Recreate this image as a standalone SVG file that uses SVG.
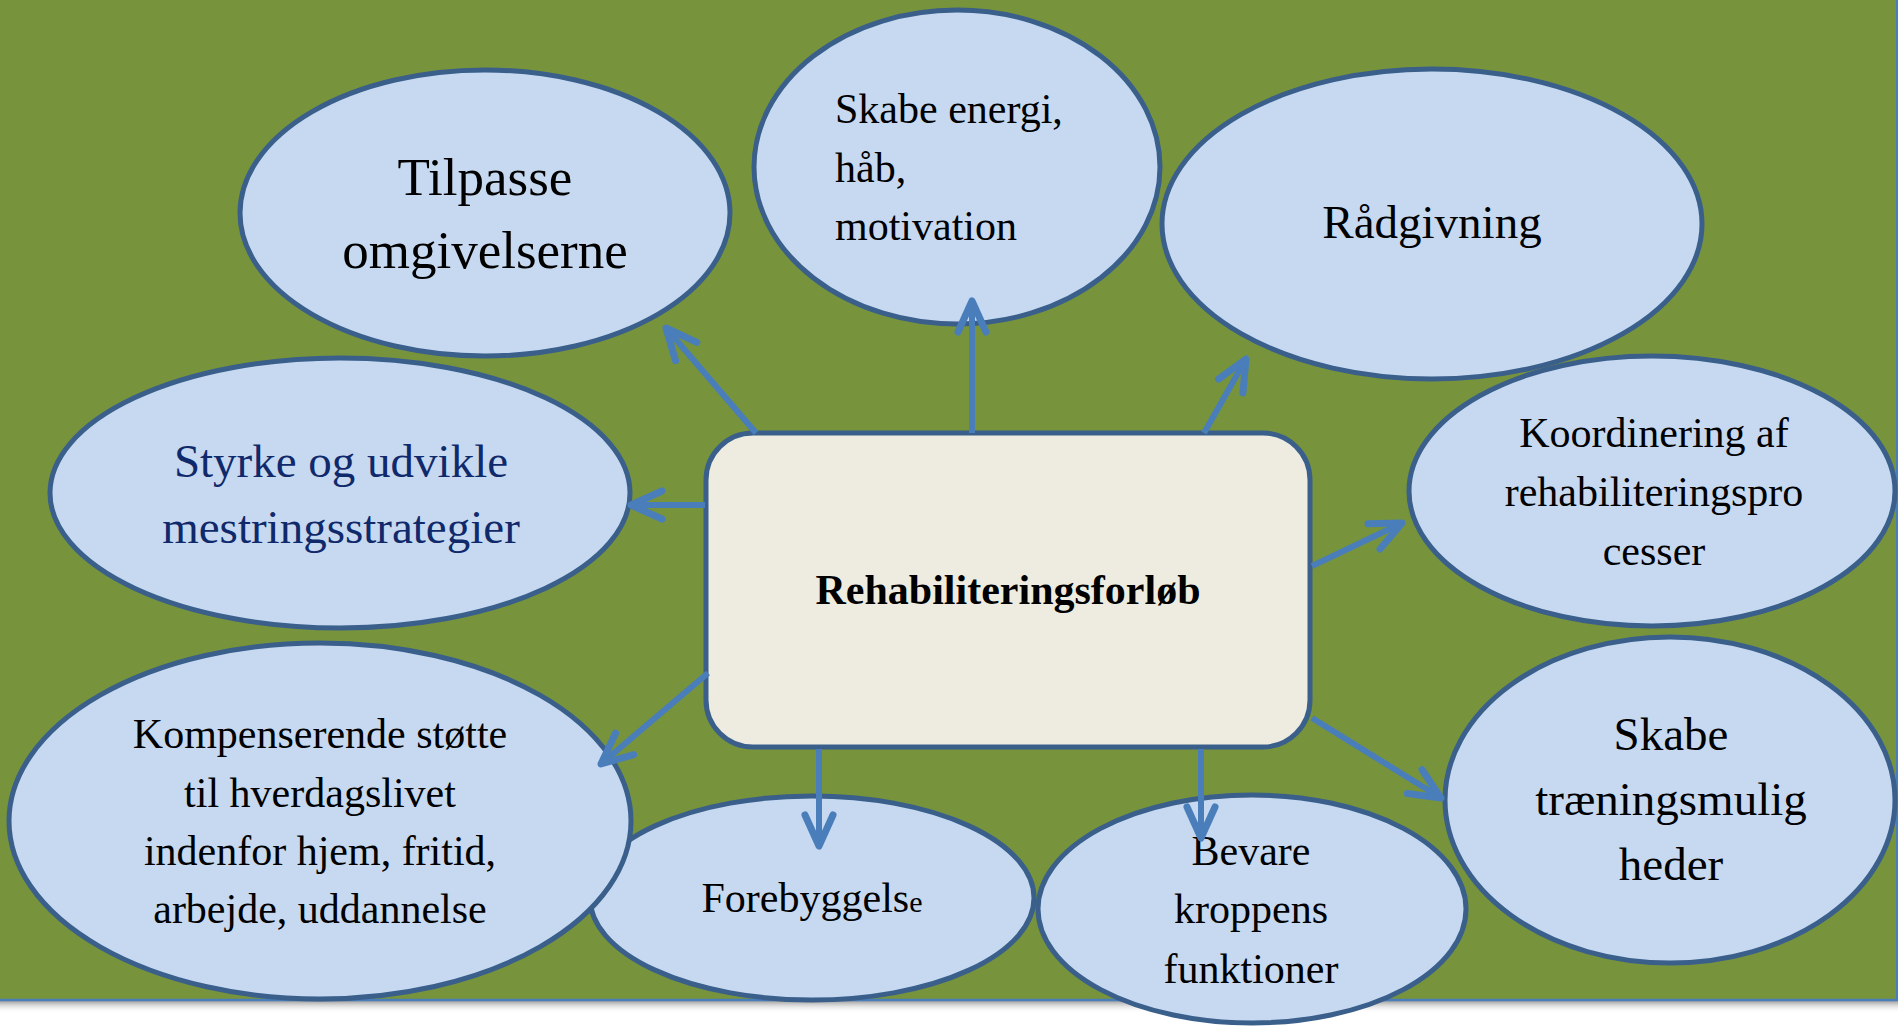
<svg xmlns="http://www.w3.org/2000/svg" width="1898" height="1027" viewBox="0 0 1898 1027">
<defs>
<style>
.bg{fill:#77933C;}
.ell{fill:#C6D9F1;stroke:#3A5F8B;stroke-width:5;}
.box{fill:#EEECE1;stroke:#3A5F8B;stroke-width:5;}
.t{font-family:"Liberation Serif","Times New Roman",serif;fill:#000;}
.c{text-anchor:middle;}
.f42{font-size:42px;}
.f47{font-size:47px;}
.f53{font-size:53px;}
.navy{fill:#10296B;}
.con{stroke:#4A7EBB;stroke-width:6;fill:none;marker-end:url(#ah);}
</style>
<linearGradient id="sh" x1="0" y1="0" x2="0" y2="1">
<stop offset="0" stop-color="#8a8a8a" stop-opacity="0.8"/>
<stop offset="1" stop-color="#ffffff" stop-opacity="0"/>
</linearGradient>
<marker id="ah" markerUnits="userSpaceOnUse" orient="auto" refX="0" refY="0" markerWidth="50" markerHeight="50" viewBox="-45 -25 50 50" overflow="visible">
<path d="M-31,-14 L0,0 L-31,14" fill="none" stroke="#4A7EBB" stroke-width="7" stroke-linecap="round" stroke-linejoin="round"/>
</marker>
</defs>
<rect x="0" y="0" width="1898" height="1027" fill="#ffffff"/>
<rect x="0" y="1001" width="1898" height="12" fill="url(#sh)"/>
<rect class="bg" x="0" y="0" width="1897" height="1000"/>
<line x1="0" y1="1000" x2="1897" y2="1000" stroke="#4A7EBB" stroke-width="2.5"/>
<line x1="1897" y1="0" x2="1897" y2="1001" stroke="#4A7EBB" stroke-width="2"/>

<g id="node-tilpasse">
<ellipse class="ell" cx="485" cy="213" rx="245" ry="143"/>
<text class="t c f53" x="485" y="195">Tilpasse</text>
<text class="t c f53" x="485" y="268">omgivelserne</text>
</g>
<g id="node-skabe-energi">
<ellipse class="ell" cx="957" cy="167" rx="203" ry="157"/>
<text class="t f42" x="835" y="123">Skabe energi,</text>
<text class="t f42" x="835" y="182">håb,</text>
<text class="t f42" x="835" y="240">motivation</text>
</g>
<g id="node-raadgivning">
<ellipse class="ell" cx="1432" cy="224" rx="270" ry="155"/>
<text class="t c f47" x="1432" y="238">Rådgivning</text>
</g>
<g id="node-koordinering">
<ellipse class="ell" cx="1652" cy="491" rx="243" ry="135"/>
<text class="t c f42" x="1654" y="447">Koordinering af</text>
<text class="t c f42" x="1654" y="506">rehabiliteringspro</text>
<text class="t c f42" x="1654" y="565">cesser</text>
</g>
<g id="node-styrke">
<ellipse class="ell" cx="340" cy="493" rx="290" ry="135"/>
<text class="t c f47 navy" x="341" y="477">Styrke og udvikle</text>
<text class="t c f47 navy" x="341" y="543">mestringsstrategier</text>
</g>
<g id="node-forebyggelse">
<ellipse class="ell" cx="812" cy="898" rx="222" ry="102"/>
<text class="t c f42" x="812" y="912">Forebyggels<tspan font-size="30">e</tspan></text>
</g>
<g id="node-kompenserende">
<ellipse class="ell" cx="320" cy="821" rx="311" ry="178"/>
<text class="t c f42" x="320" y="748">Kompenserende støtte</text>
<text class="t c f42" x="320" y="807">til hverdagslivet</text>
<text class="t c f42" x="320" y="865">indenfor hjem, fritid,</text>
<text class="t c f42" x="320" y="923">arbejde, uddannelse</text>
</g>
<g id="node-bevare">
<ellipse class="ell" cx="1252" cy="909" rx="214" ry="114"/>
<text class="t c f42" x="1251" y="865">Bevare</text>
<text class="t c f42" x="1251" y="923">kroppens</text>
<text class="t c f42" x="1251" y="983">funktioner</text>
</g>
<g id="node-skabe-traening">
<ellipse class="ell" cx="1670" cy="800" rx="225" ry="163"/>
<text class="t c f47" x="1671" y="750">Skabe</text>
<text class="t c f47" x="1671" y="815">træningsmulig</text>
<text class="t c f47" x="1671" y="880">heder</text>
</g>
<g id="node-center">
<rect class="box" x="706" y="433" width="604" height="314" rx="47" ry="47"/>
<text class="t c" x="1008" y="604" font-size="42" font-weight="bold">Rehabiliteringsforløb</text>
</g>

<g id="connectors">
<line class="con" x1="756" y1="433" x2="666" y2="328"/>
<line class="con" x1="972" y1="433" x2="972" y2="301"/>
<line class="con" x1="1204" y1="433" x2="1246" y2="359"/>
<line class="con" x1="1312" y1="566" x2="1402" y2="523"/>
<line class="con" x1="1312" y1="718" x2="1441" y2="798"/>
<line class="con" x1="1201" y1="749" x2="1201" y2="838"/>
<line class="con" x1="819" y1="749" x2="819" y2="846"/>
<line class="con" x1="708" y1="673" x2="601" y2="764"/>
<line class="con" x1="705" y1="505" x2="631" y2="505"/>
</g>
</svg>
